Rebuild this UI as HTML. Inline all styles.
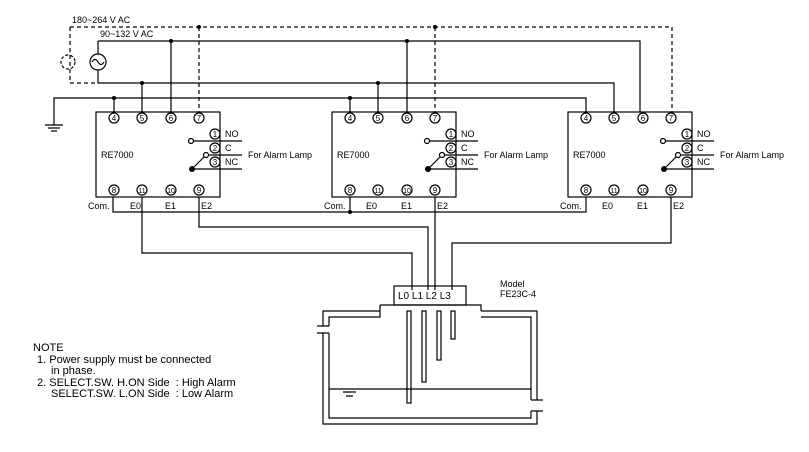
<!DOCTYPE html>
<html><head><meta charset="utf-8"><style>
html,body{margin:0;padding:0;background:#fff;}
svg{display:block;font-family:"Liberation Sans",sans-serif;}
</style></head><body>
<svg width="809" height="452" viewBox="0 0 809 452" xmlns="http://www.w3.org/2000/svg">
<g fill="none" stroke="#000" stroke-width="1.2">
<!-- dashed 180-264 -->
<path d="M70 27 H672 V112 M70 27 V83 H98 M199 27 V112 M435 27 V112" stroke-dasharray="4,3"/>
<circle cx="68" cy="62" r="7" stroke-dasharray="3,2"/>
<!-- solid 90-132 -->
<path d="M98 41 H640 V112 M98 41 V54 M98 70 V83 H614 V112 M171 41 V112 M407 41 V112 M142 83 V112 M378 83 V112"/>
<circle cx="98" cy="62" r="8"/>
<path d="M92 62 q3 -5 6 0 q3 5 6 0"/>
<!-- ground -->
<path d="M54 125 V98 H586 V112 M114 98 V112 M350 98 V112 M45 125 H63 M48 128 H60 M51 131 H57"/>
<!-- bottom wiring -->
<path d="M113 197 V212 H586 V197 M350 197 V212"/>
<path d="M142 197 V253 H412 V290 M199 197 V227 H428 V290 M435 197 V290 M671 197 V243 H452 V290"/>
<!-- sensor -->
<rect x="394" y="286" width="72" height="19"/>
<path d="M380 305 H481 V311 M380 305 V311 H323 V326 M380 311 V317 H329 V326 M481 311 H537 V400 M481 317 H531 V400 M323 333 V424 H537 V411 M329 333 V418 H531 V411 M317 326 H329 M317 333 H329 M531 400 H543 M531 411 H543 M329 389 H531 M343 392 H356 M346 396 H353"/>
<rect x="407" y="311" width="4" height="92"/>
<rect x="422" y="311" width="4" height="71"/>
<rect x="437" y="311" width="4" height="49"/>
<rect x="451" y="311" width="4" height="28"/>
</g>
<g fill="#000">
<circle cx="199" cy="27" r="2"/><circle cx="171" cy="41" r="2"/><circle cx="142" cy="83" r="2"/><circle cx="114" cy="98" r="2"/>
<circle cx="435" cy="27" r="2"/><circle cx="407" cy="41" r="2"/><circle cx="378" cy="83" r="2"/><circle cx="350" cy="98" r="2"/><circle cx="350" cy="212" r="2"/>
</g>
<g font-size="9">
<text x="72" y="23">180~264 V AC</text>
<text x="100" y="37">90~132 V AC</text>
<text x="398" y="299" font-size="10">L0 L1 L2 L3</text>
<text x="500" y="287">Model</text>
<text x="500" y="297">FE23C-4</text>
</g>
<g font-size="11">
<text x="33" y="351">NOTE</text>
<text x="37" y="363">1. Power supply must be connected</text>
<text x="51" y="374">in phase.</text>
<text x="37" y="386">2. SELECT.SW. H.ON Side&#160; : High Alarm</text>
<text x="51" y="397">SELECT.SW. L.ON Side&#160; : Low Alarm</text>
</g>
<defs></defs>
<g id="m1">
<g fill="none" stroke="#000" stroke-width="1.2">
<rect x="96" y="112" width="124" height="85"/>
<circle cx="114" cy="118" r="5"/><circle cx="142" cy="118" r="5"/><circle cx="171" cy="118" r="5"/><circle cx="199" cy="118" r="5"/>
<circle cx="114" cy="190" r="5"/><circle cx="142" cy="190" r="5"/><circle cx="171" cy="190" r="5"/><circle cx="199" cy="190" r="5"/>
<circle cx="215" cy="134" r="5"/><circle cx="215" cy="148" r="5"/><circle cx="215" cy="162" r="5"/>
<circle cx="191" cy="141" r="2.5"/>
<circle cx="206" cy="155" r="2.5"/>
<path d="M194 141 H242 M209 155 H242 M192 169 H242 M192 169 L204 157 M100 197 V197"/>
</g>
<circle cx="192" cy="169" r="3"/>
<g font-size="8" text-anchor="middle">
<text x="114" y="121">4</text><text x="142" y="121">5</text><text x="171" y="121">6</text><text x="199" y="121">7</text>
<text x="114" y="193">8</text><text x="142" y="193" font-size="7">11</text><text x="171" y="193" font-size="7">10</text><text x="199" y="193">9</text>
<text x="215" y="137">1</text><text x="215" y="151">2</text><text x="215" y="165">3</text>
</g>
<g font-size="9">
<text x="225" y="137">NO</text><text x="225" y="151">C</text><text x="225" y="165">NC</text>
<text x="101" y="158">RE7000</text>
<text x="248" y="158">For Alarm Lamp</text>
<text x="88" y="209">Com.</text><text x="130" y="209">E0</text><text x="165" y="209">E1</text><text x="201" y="209">E2</text>
</g>
</g>
<use href="#m1" x="236"/>
<use href="#m1" x="472"/>
</svg>
</body></html>
